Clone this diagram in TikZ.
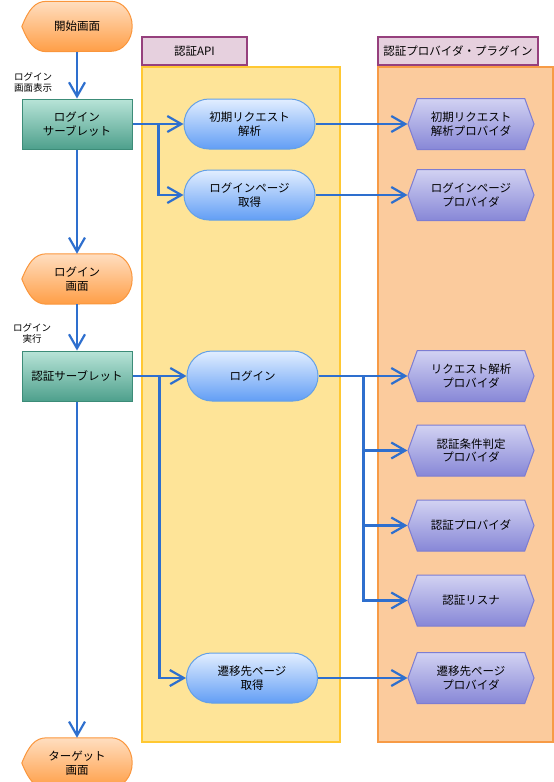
\documentclass[tikz,border=0pt]{standalone}
\usepackage{fontspec}
\setmainfont{Noto Sans CJK JP}
\usetikzlibrary{shapes.misc, shapes.symbols, arrows.meta, positioning, backgrounds, calc}

% 色
\definecolor{disptop}{RGB}{255,222,192}
\definecolor{dispbot}{RGB}{255,158,70}
\definecolor{displine}{RGB}{250,150,60}
\definecolor{srvtop}{RGB}{184,228,216}
\definecolor{srvbot}{RGB}{78,160,140}
\definecolor{srvline}{RGB}{60,140,120}
\definecolor{apitop}{RGB}{226,238,255}
\definecolor{apibot}{RGB}{98,158,245}
\definecolor{apiline}{RGB}{100,160,230}
\definecolor{provtop}{RGB}{210,210,242}
\definecolor{provbot}{RGB}{135,135,215}
\definecolor{provline}{RGB}{125,125,210}
\definecolor{laneyellow}{RGB}{254,228,152}
\definecolor{laneyline}{RGB}{255,200,50}
\definecolor{laneorange}{RGB}{251,203,157}
\definecolor{laneoline}{RGB}{247,155,70}
\definecolor{headfill}{RGB}{230,208,222}
\definecolor{headline}{RGB}{150,64,125}
\definecolor{flowblue}{RGB}{46,111,206}

\begin{document}
\begin{tikzpicture}[
    x=1pt, y=-1pt,
    font=\fontsize{11.5}{13.5}\selectfont,
    >={Straight Barb[length=14pt,width=16pt]},
    % --- スタイル ---
    % 画面 (オレンジ, 形は背景に描く)
    disp/.style={minimum width=110pt, minimum height=50pt, inner sep=0pt, align=center},
    dispshade/.style={draw=displine, line width=1pt, top color=disptop, bottom color=dispbot},
    % サーブレット (緑)
    servlet/.style={draw=srvline, line width=1pt, top color=srvtop, bottom color=srvbot,
        minimum width=110pt, minimum height=50pt, inner sep=0pt, align=center},
    % 認証API (青)
    api/.style={rounded rectangle, draw=apiline, line width=1pt, top color=apitop, bottom color=apibot,
        minimum width=131pt, minimum height=50pt, inner sep=0pt, align=center},
    % プロバイダ (紫の六角形)
    prov/.style={signal, signal to=east and west, signal pointer angle=140, draw=provline, line width=1pt,
        top color=provtop, bottom color=provbot, minimum width=126pt, minimum height=51pt, inner sep=0pt, align=center},
    % レーン
    lane/.style={line width=2pt, inner sep=0pt, minimum height=675pt},
    lanehead/.style={draw=headline, line width=2pt, fill=headfill, minimum height=28pt, inner sep=0pt},
    % 矢印ラベル
    sidelabel/.style={font=\fontsize{9.5}{11}\selectfont, align=center},
    % 矢印
    flow/.style={->, draw=flowblue, line width=2.2pt}
]
\useasboundingbox (0,0) rectangle (554,782);

% --- 1. レーン ---
\node[lane, draw=laneyline, fill=laneyellow, minimum width=198pt] (apiLane) at (241,404.5) {};
\node[lane, draw=laneoline, fill=laneorange, minimum width=175pt] (provLane) at (465.5,404.5) {};
\node[lanehead, minimum width=105pt] (apiHead) at (194.5,51) {認証API};
\node[lanehead, minimum width=160pt] (provHead) at (458,51) {認証プロバイダ・プラグイン};

% --- 2. 画面とサーブレット ---
\node[disp] (start) at (77,26.5) {開始画面};
\node[servlet] (loginSrv) at (77,124) {ログイン\\サーブレット};
\node[disp] (loginScr) at (77,279) {ログイン\\画面};
\node[servlet] (authSrv) at (77,376) {認証サーブレット};
\node[disp] (target) at (77,763) {ターゲット\\画面};

% 画面の形 (背景)
\begin{scope}[on background layer]
\foreach \n in {start, loginScr, target} {
    \path[dispshade] (\n.west) .. controls ($(\n.west)+(7,-17)$) and ($(\n.north west)+(13,0)$) .. ($(\n.north west)+(25,0)$)
        -- ($(\n.north east)+(-21,0)$) arc[start angle=90, end angle=-90, x radius=21pt, y radius=25pt]
        -- ($(\n.south west)+(25,0)$) .. controls ($(\n.south west)+(13,0)$) and ($(\n.west)+(7,17)$) .. (\n.west) -- cycle;
}
\end{scope}

% --- 3. 認証API ---
\node[api] (parse) at (249.5,124) {初期リクエスト\\解析};
\node[api] (page) at (249.5,195) {ログインページ\\取得};
\node[api] (login) at (252.5,376) {ログイン};
\node[api] (dest) at (252,678) {遷移先ページ\\取得};

% --- 4. プロバイダ ---
\node[prov] (p1) at (471,124) {初期リクエスト\\解析プロバイダ};
\node[prov] (p2) at (471,195) {ログインページ\\プロバイダ};
\node[prov] (p3) at (471,376) {リクエスト解析\\プロバイダ};
\node[prov] (p4) at (471,450.5) {認証条件判定\\プロバイダ};
\node[prov] (p5) at (471,525.5) {認証プロバイダ};
\node[prov] (p6) at (471,600.5) {認証リスナ};
\node[prov] (p7) at (471,678) {遷移先ページ\\プロバイダ};

% --- 5. 矢印 ---
\draw[flow] (start) -- (loginSrv);
\draw[flow] (loginSrv) -- (loginScr);
\draw[flow] (loginScr) -- (authSrv);
\draw[flow] (authSrv) -- (target);

\node[sidelabel] (lblShow) at (33,82) {ログイン\\画面表示};
\node[sidelabel] (lblExec) at (32,333) {ログイン\\実行};

% サーブレット -> API
\coordinate (br1) at ($(loginSrv.east)+(26,0)$);
\draw[flow] (loginSrv.east) -- (parse.west);
\draw[flow] (br1) |- (page.west);

\coordinate (br2) at ($(authSrv.east)+(27,0)$);
\draw[flow] (authSrv.east) -- (login.west);
\draw[flow] (br2) |- (dest.west);

% API -> プロバイダ
\draw[flow] (parse.east) -- (p1.west);
\draw[flow] (page.east) -- (p2.west);
\draw[flow] (login.east) -- (p3.west);
\coordinate (br3) at ($(login.east)+(45,0)$);
\foreach \p in {p4, p5, p6}
    \draw[flow] (br3) |- (\p.west);
\draw[flow] (dest.east) -- (p7.west);

\end{tikzpicture}
\end{document}
